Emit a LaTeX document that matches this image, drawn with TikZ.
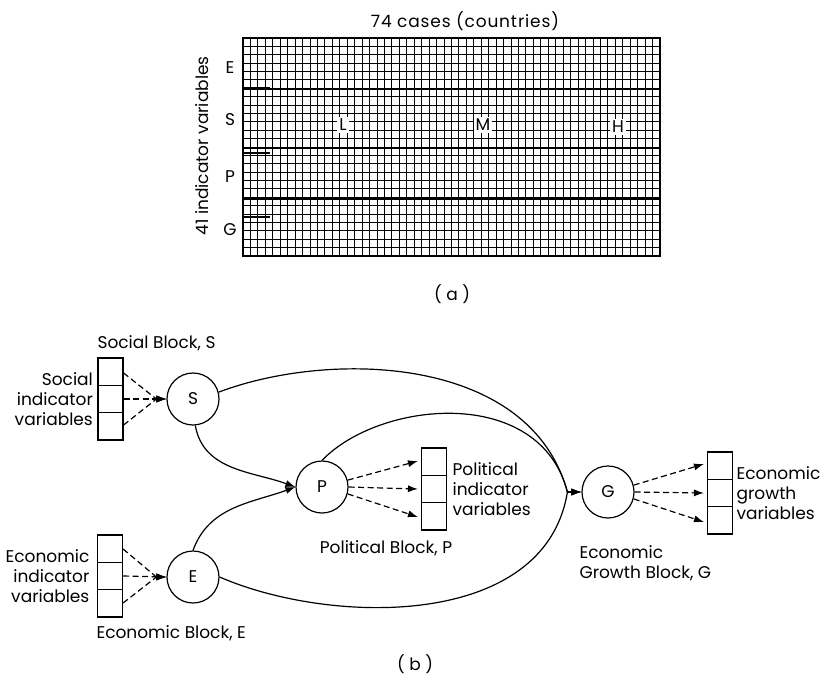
\documentclass[tikz,border=0pt]{standalone}
\usepackage{fontspec}
\setmainfont{Poppins}
\usepackage{tikz}
\usetikzlibrary{calc}
\usetikzlibrary{arrows.meta}
\usetikzlibrary{positioning}

\tikzset{
    block/.style={circle,draw,line width=1.2pt,minimum size=52pt,inner sep=0pt},
    varbox/.style={rectangle,draw,line width=1.2pt,minimum width=25pt,minimum height=82pt,inner sep=0pt},
    link/.style={line width=1.2pt,-{Latex[length=3.5mm,width=2.5mm]}},
    dlink/.style={line width=1.2pt,dash pattern=on 6pt off 3.5pt,-{Latex[length=3.5mm,width=2.5mm]}},
    gridline/.style={line width=0.95pt},
    blockline/.style={line width=1.6pt}
}

\begin{document}
\begin{tikzpicture}[x=1pt,y=1pt,font=\fontsize{17}{20}\selectfont]
        \useasboundingbox (0,0) rectangle (821,-681);

        \def\gx{243}
        \def\gy{-38}
        \def\gw{417}
        \def\gh{218}

        \foreach \i in {0,...,56}
            \draw [gridline] ({\gx+\i*(\gw/56)},\gy) -- ({\gx+\i*(\gw/56)},{\gy-\gh});
        \foreach \j in {0,...,26}
            \draw [gridline] (\gx,{\gy-\j*(\gh/26)}) -- ({\gx+\gw},{\gy-\j*(\gh/26)});

        \draw [line width=1.3pt] (\gx,\gy) rectangle ({\gx+\gw},{\gy-\gh});
        \draw [blockline] (\gx,-89) -- ({\gx+\gw},-89);
        \draw [blockline] (\gx,-148) -- ({\gx+\gw},-148);
        \draw [blockline] (\gx,-199) -- ({\gx+\gw},-199);
        \draw [line width=2.2pt] (\gx,-88) -- (270,-88);
        \draw [line width=2.2pt] (\gx,-153) -- (270,-153);
        \draw [line width=2.2pt] (\gx,-217) -- (270,-217);

        \node (cases) at (465,-21) {\addfontfeatures{LetterSpace=5}74 cases (countries)};
        \node (vars) [rotate=90] at (202,-146) {41 indicator variables};
        \node (rowE) at (230,-68) {E};
        \node (rowS) at (230,-120) {S};
        \node (rowP) at (230,-177) {P};
        \node (rowG) at (230,-230) {G};
        \node (lowC) [fill=white,inner sep=2pt] at (343,-125) {L};
        \node (midC) [fill=white,inner sep=2pt] at (483,-125) {M};
        \node (highC) [fill=white,inner sep=2pt] at (618,-127) {H};
        \node (capA) at (452,-294) {( a )};

        \node (S) [block] at (193,-399) {S};
        \node (E) [block] at (193,-577) {E};
        \node (P) [block] at (322,-487) {P};
        \node (G) [block] at (608,-492) {G};

        \node (sbox) [varbox] at (110.5,-399) {};
        \node (ebox) [varbox] at (110,-576) {};
        \node (pbox) [varbox] at (434,-489) {};
        \node (gbox) [varbox] at (720,-493) {};

        \foreach \b in {sbox,ebox,pbox,gbox} {
            \draw [line width=1pt] ($(\b.north west)!1/3!(\b.south west)$) -- ($(\b.north east)!1/3!(\b.south east)$);
            \draw [line width=1pt] ($(\b.north west)!2/3!(\b.south west)$) -- ($(\b.north east)!2/3!(\b.south east)$);
        }

        \node (stext) [left=1pt of sbox,align=right] {Social\\indicator\\variables};
        \node (etext) [left=4pt of ebox,align=right] {Economic\\indicator\\variables};
        \node (ptext) [right=2pt of pbox,align=left] {Political\\indicator\\variables};
        \node (gtext) [right=0pt of gbox,align=left] {Economic\\growth\\variables};

        \node (sname) [anchor=west] at (94,-343) {Social Block, S};
        \node (ename) [anchor=west] at (93,-633) {Economic Block, E};
        \node (pname) at (386,-548) {Political Block, P};
        \node (gname) [anchor=west,align=left] at (576,-563) {Economic\\Growth Block, G};
        \node (capB) at (415,-664) {( b )};

        \coordinate (sjoin) at ($(S.west)+(-10,0)$);
        \coordinate (ejoin) at ($(E.west)+(-10,0)$);
        \coordinate (gjoin) at ($(G.west)+(-14,0)$);

        \draw [dlink] ([yshift=26pt]sbox.east) -- (sjoin) -- (S.west);
        \draw [dlink] (sbox.east) -- (S.west);
        \draw [dlink] ([yshift=-26pt]sbox.east) -- (sjoin) -- (S.west);

        \draw [dlink] ([yshift=27pt]ebox.east) -- (ejoin) -- (E.west);
        \draw [dlink] (ebox.east) -- (E.west);
        \draw [dlink] ([yshift=-27pt]ebox.east) -- (ejoin) -- (E.west);

        \draw [dlink] (P.15) -- ([xshift=-3pt,yshift=28pt]pbox.west);
        \draw [dlink] (P.0) -- ([xshift=-3pt]pbox.west);
        \draw [dlink] (P.-15) -- ([xshift=-3pt,yshift=-28pt]pbox.west);

        \draw [dlink] (G.15) -- ([xshift=-3pt,yshift=29pt]gbox.west);
        \draw [dlink] (G.0) -- ([xshift=-3pt]gbox.west);
        \draw [dlink] (G.-15) -- ([xshift=-3pt,yshift=-29pt]gbox.west);

        \draw [link] (S.-85) to [out=-80,in=160] (P.west);
        \draw [link] (E.north) to [out=70,in=200] (P.west);
        \draw [link] (S.15) .. controls (330,-350) and (530,-355) .. (gjoin) -- (G.west);
        \draw [link] (P.north) .. controls (380,-400) and (540,-385) .. (gjoin) -- (G.west);
        \draw [link] (E.east) .. controls (330,-625) and (545,-630) .. (gjoin) -- (G.west);
    \end{tikzpicture}
\end{document}
